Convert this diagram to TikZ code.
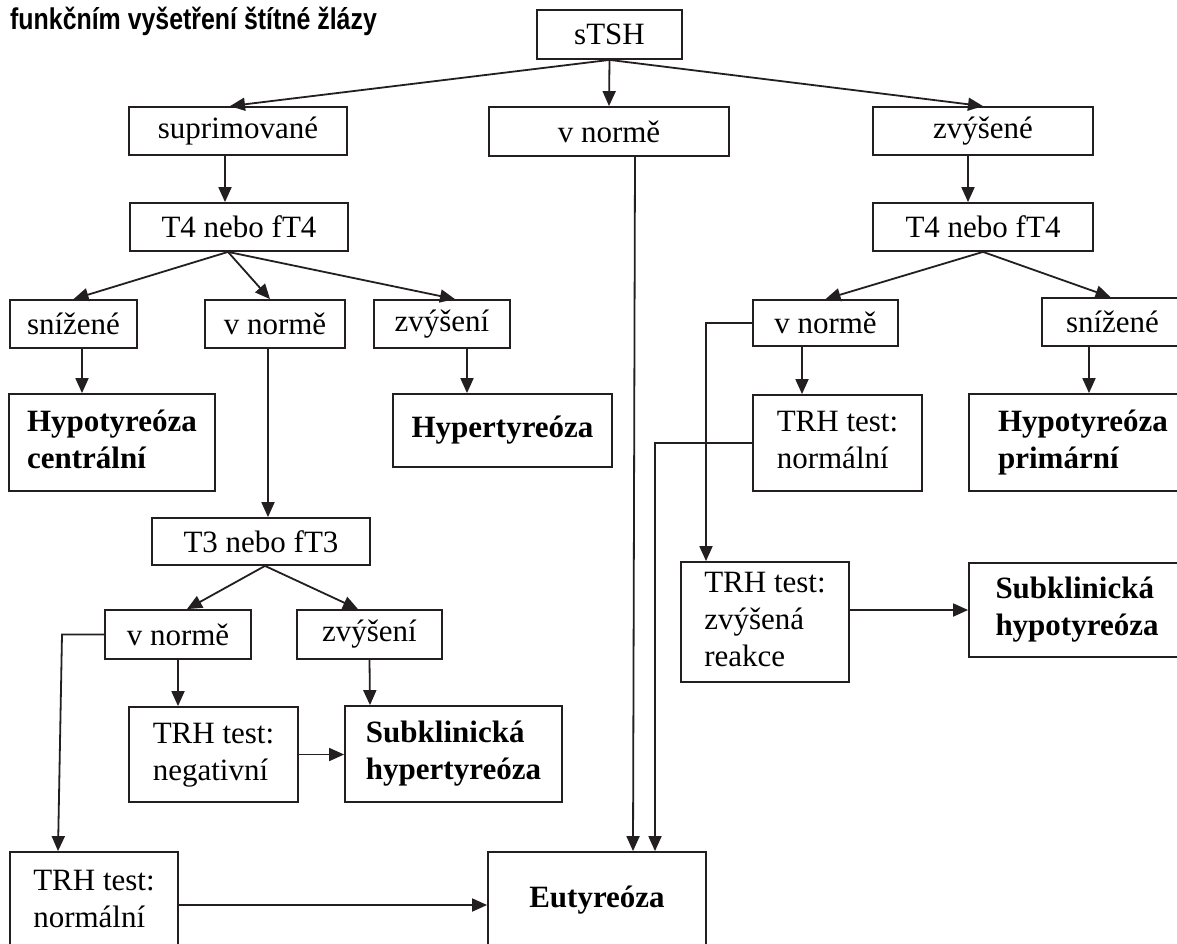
\documentclass[tikz,border=0pt]{standalone}
\usepackage{fontspec}
\usepackage{graphicx}
\setmainfont{Liberation Serif}
\newfontfamily\titlefont{Liberation Sans}
\usetikzlibrary{arrows.meta}
\definecolor{ink}{RGB}{35,31,32}
\newcommand\bx[7][box]{\node[#1,minimum width={#5-#3}, minimum height={#6-#4}] (#2) at ({(#3+#5)/2},{(#4+#6)/2}) {#7};}
\newcommand\ml[1]{\begin{tabular}{@{}l@{}}#1\end{tabular}}
\begin{document}
\begin{tikzpicture}[x=1pt,y=-1pt,
  box/.style={draw=ink, line width=1.8pt, inner sep=0pt, font=\fontsize{31}{37}\selectfont},
  bbox/.style={box, font=\fontsize{31}{37}\selectfont\bfseries},
  arr/.style={draw=ink, line width=1.8pt, -{Triangle[length=15pt,width=13pt]}}]
\useasboundingbox (0,0) rectangle (1177,943);
\clip (0,0) rectangle (1177,943);
\fill[white] (0,0) rectangle (1177,943);
\renewcommand\arraystretch{1}
\setlength\tabcolsep{0pt}

\node[anchor=base west, inner sep=0pt] (title) at (10,29.5)
  {\titlefont\bfseries\fontsize{30}{32}\selectfont\scalebox{0.83}[1]{funkčním vyšetření štítné žlázy}};

% boxes
\bx{tsh}{537}{10}{682}{59}{sTSH}
\bx{sup}{129}{107}{347}{155}{suprimované}
\bx{vnm}{489}{107}{729}{156}{v normě}
\bx{zvy}{873}{107}{1093}{155}{zvýšené}
\bx{tfl}{130}{203}{348}{251}{T4 nebo fT4}
\bx{tfr}{873}{203}{1093}{251}{T4 nebo fT4}
\bx{snl}{10}{300}{137}{348}{snížené}
\bx{vnl}{205}{300}{345}{348}{v normě}
\bx{zvl}{374}{300}{510}{348}{zvýšení}
\bx[bbox]{hyc}{9}{394}{215}{491}{\ml{Hypotyreóza\\centrální}}
\bx[bbox]{hyt}{393}{394}{612}{467}{Hypertyreóza}
\bx{ttl}{152}{518}{370}{565}{T3 nebo fT3}
\bx{vn3}{105}{610}{251}{659}{v normě}
\bx{zv3}{297}{610}{442}{659}{zvýšení}
\bx{trn}{129}{707}{298}{802}{\ml{TRH test:\\negativní}}
\bx[bbox]{shr}{345}{706}{562}{802}{\ml{Subklinická\\hypertyreóza}}
\bx{trl}{10}{852}{178}{952}{\ml{TRH test:\\normální}}
\bx[bbox]{eut}{488}{852}{706}{948}{Eutyreóza}
\bx{vnr}{753}{300}{898}{346}{v normě}
\bx{snr}{1042}{298}{1183}{346}{snížené}
\bx{trr}{753}{395}{922}{491}{\ml{TRH test:\\normální}}
\bx[bbox]{hyp}{969}{394}{1197}{491}{\ml{Hypotyreóza\\primární}}
\bx{trz}{681}{562}{849}{682}{\ml{TRH test:\\zvýšená\\reakce}}
\bx[bbox]{shp}{969}{563}{1185}{657}{\ml{Subklinická\\hypotyreóza}}

% connectors
\draw[arr] (tsh.south) -- ([xshift=-8pt]sup.north);
\draw[arr] (tsh.south) -- (vnm.north);
\draw[arr] (tsh.south) -- (zvy.north);
\draw[arr] ([xshift=26pt]vnm.south) -- ([xshift=36pt]eut.north);

\draw[arr] ([xshift=-13pt]sup.south) -- ([xshift=-14pt]tfl.north);
\draw[arr] ([xshift=-11pt]tfl.south) -- (snl.north);
\draw[arr] ([xshift=-11pt]tfl.south) -- ([xshift=-5pt]vnl.north);
\draw[arr] ([xshift=-11pt]tfl.south) -- ([xshift=13pt]zvl.north);
\draw[arr] ([xshift=8.5pt]snl.south) -- ([xshift=-30pt]hyc.north);
\draw[arr] ([xshift=25pt]zvl.south) -- ([xshift=-35.5pt]hyt.north);
\draw[arr] ([xshift=-7pt]vnl.south) -- ([xshift=7pt]ttl.north);
\draw[arr] ([xshift=4pt]ttl.south) -- ([xshift=9pt]vn3.north);
\draw[arr] ([xshift=4pt]ttl.south) -- ([xshift=-11.5pt]zv3.north);
\draw[arr] (vn3.south) -- ([xshift=-35.5pt]trn.north);
\draw[arr] (zv3.south) -- ([xshift=-83.5pt]shr.north);
\draw[arr] (trn.east) -- (trn.east -| shr.west);
\coordinate (cl) at (62,634.5);
\draw[arr] (vn3.west) -- (cl) -- ([xshift=-36pt]trl.north);
\draw[arr] ([yshift=-3pt]trl.east) -- ([yshift=-3pt]trl.east -| eut.west);

\draw[arr] ([xshift=-15pt]zvy.south) -- ([xshift=-15pt]tfr.north);
\draw[arr] (tfr.south) -- (vnr.north);
\draw[arr] (tfr.south) -- ([xshift=-2pt]snr.north);
\draw[arr] ([xshift=-23.5pt]vnr.south) -- ([xshift=-35.5pt]trr.north);
\coordinate (cr) at (706,323);
\draw[arr] (vnr.west) -- (cr) -- ([xshift=-59pt]trz.north);
\coordinate (ce) at (655,443);
\draw[arr] (trr.west) -- (ce) -- ([xshift=58pt]eut.north);
\draw[arr] (shp.west -| trz.east) -- (shp.west);
\draw[arr] ([xshift=-23.5pt]snr.south) -- ([xshift=6pt]hyp.north);
\end{tikzpicture}
\end{document}
